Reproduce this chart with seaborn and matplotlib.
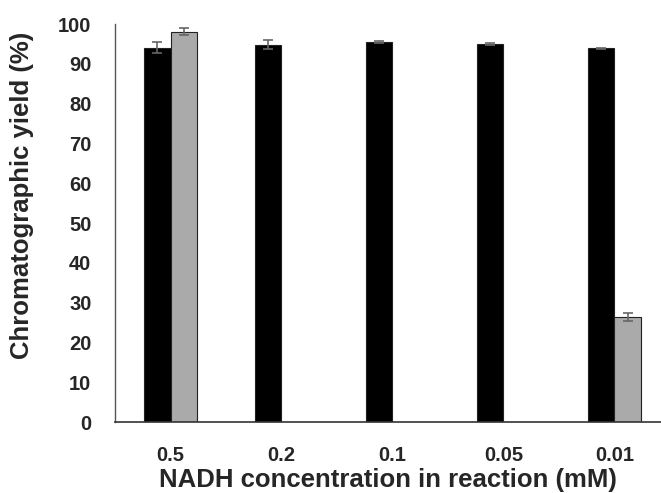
import numpy as np
import pandas as pd
import matplotlib
matplotlib.use("Agg")
import matplotlib.pyplot as plt
import seaborn as sns

sns.set_style("white")
plt.rcParams["font.family"] = ["Liberation Sans", "DejaVu Sans"]
plt.rcParams["font.weight"] = "bold"

# ---------------- DATA ----------------
nadh_conc = ["0.5", "0.2", "0.1", "0.05", "0.01"]
series_a = [94.1, 94.8, 95.5, 95.0, 93.9]          # black bars
series_a_err = [1.4, 1.2, 0.2, 0.15, 0.1]
series_b = [98.1, np.nan, np.nan, np.nan, 26.5]    # grey bars
series_b_err = [0.9, np.nan, np.nan, np.nan, 1.0]

df = pd.DataFrame({
    "conc": nadh_conc * 2,
    "series": ["A"] * 5 + ["B"] * 5,
    "yield": series_a + series_b,
    "err": series_a_err + series_b_err,
})

# ---------------- PLOT ----------------
fig = plt.figure(figsize=(6.61, 4.93), dpi=100)
ax = fig.add_axes([0.174, 0.1434, 0.826, 0.8079])

sns.barplot(data=df, x="conc", y="yield", hue="series", order=nadh_conc,
            hue_order=["A", "B"], palette=["#000000", "#aaaaaa"],
            width=0.476, errorbar=None, legend=False, ax=ax,
            edgecolor="#222222", linewidth=0.8)

# error bars at the bar centres (match each bar to its category by position)
for cont, errs in zip(ax.containers, [series_a_err, series_b_err]):
    for bar in cont:
        h = bar.get_height()
        xc = bar.get_x() + bar.get_width() / 2
        e = errs[int(round(xc))]
        if np.isnan(h) or np.isnan(e):
            continue
        ax.errorbar(xc, h, yerr=e, fmt="none", ecolor="#666666",
                    elinewidth=1.2, capsize=3.5, capthick=1.2)

ax.set_ylim(0, 100)
ax.set_xlim(-0.5, 4.42)
ax.set_yticks(range(0, 101, 10))
ax.tick_params(axis="both", length=0, labelsize=14.5)
ax.tick_params(axis="y", pad=17)
ax.tick_params(axis="x", pad=17)
ax.set_ylabel("Chromatographic yield (%)", fontsize=18.5, fontweight="bold")
ax.yaxis.set_label_coords(-0.148, 0.57)
ax.set_xlabel("NADH concentration in reaction (mM)", fontsize=18.5, fontweight="bold", labelpad=2)
for lbl in ax.get_xticklabels() + ax.get_yticklabels():
    lbl.set_fontweight("bold")

sns.despine(ax=ax)
ax.spines["left"].set_color("#555555")
ax.spines["bottom"].set_color("#333333")
ax.spines["left"].set_linewidth(1.0)
ax.spines["bottom"].set_linewidth(1.2)

plt.savefig("out.png", dpi=100)
